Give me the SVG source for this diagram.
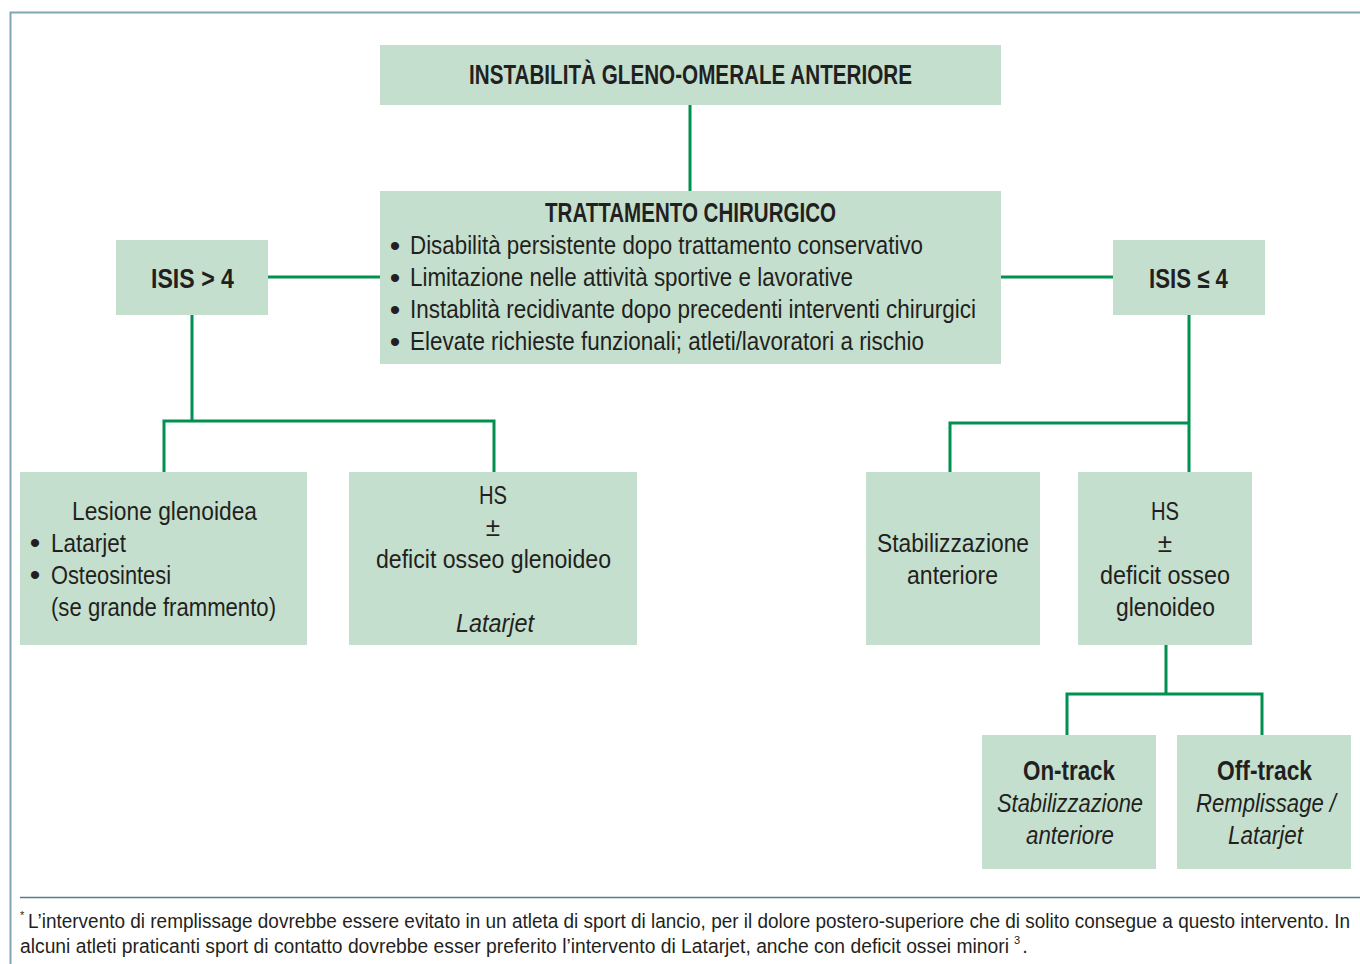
<svg xmlns="http://www.w3.org/2000/svg" width="1360" height="964" viewBox="0 0 1360 964">
<style>
.box{fill:#c5dfce}
.c{stroke:#00904f;stroke-width:3;fill:none}
text{font-family:"Liberation Sans",Arial,sans-serif;fill:#231f20;font-size:26px}
.b{font-weight:bold;font-size:27px}
.i{font-style:italic}
.m{text-anchor:middle}
.f{font-size:20px}
.sup{font-size:11px}
.bu{font-size:30px;text-anchor:middle}
.big{font-size:28px}
</style>
<rect width="1360" height="964" fill="#ffffff"/>
<path d="M10.5 964 V12.5 H1360" fill="none" stroke="#7fa8b2" stroke-width="2"/>
<line x1="20" y1="897.5" x2="1360" y2="897.5" stroke="#4f7f8e" stroke-width="1.5"/>
<g id="connectors">
<path class="c" d="M690 105 V191"/>
<path class="c" d="M268 277 H380"/>
<path class="c" d="M1001 277 H1113"/>
<path class="c" d="M192 315 V421 M164 472 V421 H494 V472"/>
<path class="c" d="M1189 315 V472 M950 472 V423 H1189"/>
<path class="c" d="M1166 645 V694 M1067 735 V694 H1262 V735"/>
</g>
<g id="n-top">
<rect class="box" x="380" y="45" width="621" height="60"/>
<text class="b m" x="690.5" y="84" textLength="443" lengthAdjust="spacingAndGlyphs">INSTABILITÀ GLENO-OMERALE ANTERIORE</text>
</g>
<g id="n-trattamento">
<rect class="box" x="380" y="191" width="621" height="173"/>
<text class="b m" x="690.5" y="222" textLength="291" lengthAdjust="spacingAndGlyphs">TRATTAMENTO CHIRURGICO</text>
<text class="bu" x="395" y="256">•</text><text x="410" y="254" textLength="513" lengthAdjust="spacingAndGlyphs">Disabilità persistente dopo trattamento conservativo</text>
<text class="bu" x="395" y="288">•</text><text x="410" y="286" textLength="443" lengthAdjust="spacingAndGlyphs">Limitazione nelle attività sportive e lavorative</text>
<text class="bu" x="395" y="320">•</text><text x="410" y="318" textLength="566" lengthAdjust="spacingAndGlyphs">Instablità recidivante dopo precedenti interventi chirurgici</text>
<text class="bu" x="395" y="352">•</text><text x="410" y="350" textLength="514" lengthAdjust="spacingAndGlyphs">Elevate richieste funzionali; atleti/lavoratori a rischio</text>
</g>
<g id="n-isis-gt4">
<rect class="box" x="116" y="240" width="152" height="75"/>
<text class="b m big" x="192.5" y="288" textLength="83" lengthAdjust="spacingAndGlyphs">ISIS &gt; 4</text>
</g>
<g id="n-isis-le4">
<rect class="box" x="1113" y="240" width="152" height="75"/>
<text class="b m big" x="1188.5" y="288" textLength="79" lengthAdjust="spacingAndGlyphs">ISIS ≤ 4</text>
</g>
<g id="n-lesione">
<rect class="box" x="20" y="472" width="287" height="173"/>
<text class="m" x="164.5" y="520" textLength="185" lengthAdjust="spacingAndGlyphs">Lesione glenoidea</text>
<text class="bu" x="35" y="553">•</text><text x="51" y="552" textLength="75" lengthAdjust="spacingAndGlyphs">Latarjet</text>
<text class="bu" x="35" y="585">•</text><text x="51" y="584" textLength="120" lengthAdjust="spacingAndGlyphs">Osteosintesi</text>
<text x="51" y="616" textLength="225" lengthAdjust="spacingAndGlyphs">(se grande frammento)</text>
</g>
<g id="n-hs-left">
<rect class="box" x="349" y="472" width="288" height="173"/>
<text class="m" x="493" y="504" textLength="28" lengthAdjust="spacingAndGlyphs">HS</text>
<text class="m" x="493" y="536">±</text>
<text class="m" x="493.5" y="568" textLength="235" lengthAdjust="spacingAndGlyphs">deficit osseo glenoideo</text>
<text class="i m" x="495" y="632" textLength="78" lengthAdjust="spacingAndGlyphs">Latarjet</text>
</g>
<g id="n-stabilizzazione">
<rect class="box" x="866" y="472" width="174" height="173"/>
<text class="m" x="953" y="552" textLength="152" lengthAdjust="spacingAndGlyphs">Stabilizzazione</text>
<text class="m" x="952.5" y="584" textLength="91" lengthAdjust="spacingAndGlyphs">anteriore</text>
</g>
<g id="n-hs-right">
<rect class="box" x="1078" y="472" width="174" height="173"/>
<text class="m" x="1165" y="520" textLength="28" lengthAdjust="spacingAndGlyphs">HS</text>
<text class="m" x="1165" y="552">±</text>
<text class="m" x="1165" y="584" textLength="130" lengthAdjust="spacingAndGlyphs">deficit osseo</text>
<text class="m" x="1165.5" y="616" textLength="99" lengthAdjust="spacingAndGlyphs">glenoideo</text>
</g>
<g id="n-ontrack">
<rect class="box" x="982" y="735" width="174" height="134"/>
<text class="b m" x="1069" y="780" textLength="92" lengthAdjust="spacingAndGlyphs">On-track</text>
<text class="i m" x="1070" y="812" textLength="146" lengthAdjust="spacingAndGlyphs">Stabilizzazione</text>
<text class="i m" x="1070" y="844" textLength="88" lengthAdjust="spacingAndGlyphs">anteriore</text>
</g>
<g id="n-offtrack">
<rect class="box" x="1177" y="735" width="174" height="134"/>
<text class="b m" x="1264.5" y="780" textLength="95" lengthAdjust="spacingAndGlyphs">Off-track</text>
<text class="i m" x="1266" y="812" textLength="140" lengthAdjust="spacingAndGlyphs">Remplissage /</text>
<text class="i m" x="1265.5" y="844" textLength="75" lengthAdjust="spacingAndGlyphs">Latarjet</text>
</g>
<g id="footer">
<text class="f" x="20" y="928"><tspan class="sup" dy="-9">*</tspan><tspan x="28" dy="9" textLength="1322" lengthAdjust="spacingAndGlyphs">L’intervento di remplissage dovrebbe essere evitato in un atleta di sport di lancio, per il dolore postero-superiore che di solito consegue a questo intervento. In</tspan></text>
<text class="f" x="20" y="953"><tspan textLength="989" lengthAdjust="spacingAndGlyphs">alcuni atleti praticanti sport di contatto dovrebbe esser preferito l’intervento di Latarjet, anche con deficit ossei minori</tspan><tspan class="sup" dx="5" dy="-9">3</tspan><tspan dx="2" dy="9">.</tspan></text>
</g>
</svg>
